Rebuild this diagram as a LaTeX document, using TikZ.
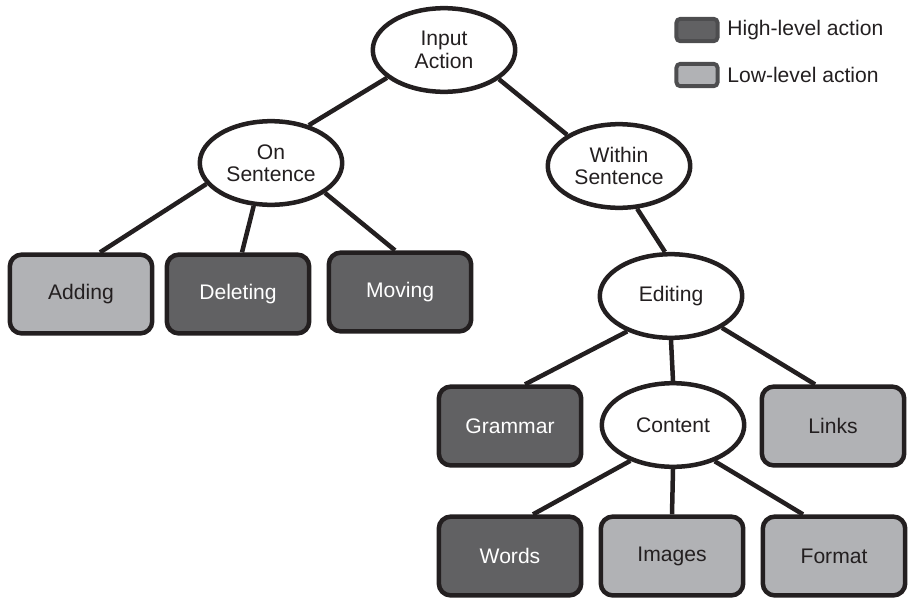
\documentclass[tikz,border=0pt]{standalone}
\usepackage{fontspec}
\setmainfont{Liberation Sans}
\usetikzlibrary{shapes.geometric,positioning}
\definecolor{highGray}{HTML}{616163}
\definecolor{lowGray}{HTML}{B1B2B5}
\definecolor{keyLine}{HTML}{4D4D4F}
\definecolor{inkBlack}{HTML}{231F20}
\tikzset{
myEllipse/.style={
	ellipse,draw=inkBlack,fill=white,line width=3.2pt,
	minimum width=3.56cm,minimum height=2.09cm,
	inner sep=0pt,align=center,text=inkBlack
}
, myHigh/.style={
	rectangle,rounded corners=0.3cm,draw=inkBlack,fill=highGray,line width=3.2pt,
	minimum width=3.56cm,minimum height=1.97cm,
	inner sep=0pt,text=white
}
, myLow/.style={
	myHigh,fill=lowGray,text=inkBlack
}
% legend
, myKey/.style={
	rectangle,rounded corners=0.1cm,draw=keyLine,line width=2.8pt,
	minimum width=1.03cm,minimum height=0.56cm,inner sep=0pt
}
, myKeyText/.style={anchor=west,text=inkBlack}
% link
, myEdge/.style={draw=inkBlack,line width=3.2pt}
}
\begin{document}
\begin{tikzpicture}[x=0.025cm,y=-0.025cm,font=\fontsize{15}{16}\selectfont]
	\useasboundingbox (0,0) rectangle (911,598);
	% decision nodes
	\node[myEllipse] (input)   at (444,50)  {Input\\Action};
	\node[myEllipse] (onSent)  at (271,163) {On\\Sentence};
	\node[myEllipse] (within)  at (619,166) {Within\\Sentence};
	\node[myEllipse] (editing) at (671,296) {Editing};
	\node[myEllipse] (content) at (673,425) {Content};
	% actions
	\node[myLow]  (adding)   at (81,294)  {Adding};
	\node[myHigh] (deleting) at (238,294) {Deleting};
	\node[myHigh] (moving)   at (400,292) {Moving};
	\node[myHigh] (grammar)  at (510,426) {Grammar};
	\node[myLow]  (links)    at (833,426) {Links};
	\node[myHigh] (words)    at (510,556) {Words};
	\node[myLow]  (images)   at (672,556) {Images};
	\node[myLow]  (format)   at (834,556) {Format};
	% legend
	\node[myKey,fill=highGray] (highKey) at (697,30) {};
	\node[myKeyText,right=0.07cm of highKey] (highText) {High-level action};
	\node[myKey,fill=lowGray] (lowKey) at (697,75) {};
	\node[myKeyText,right=0.07cm of lowKey] (lowText) {Low-level action};
	% links
	\draw[myEdge] (input.206) -- (onSent.45);
	\draw[myEdge] (input.332) -- (within.149);
	\draw[myEdge] (onSent.198) -- ([xshift=0.475cm]adding.north);
	\draw[myEdge] (onSent.248) -- ([xshift=0.1cm]deleting.north);
	\draw[myEdge] (onSent.331) -- ([xshift=-0.125cm]moving.north);
	\draw[myEdge] (within.293) -- ([xshift=-0.15cm]editing.north);
	\draw[myEdge] (editing.219) -- ([xshift=0.375cm]grammar.north);
	\draw[myEdge] (editing.south) -- (content.north);
	\draw[myEdge] (editing.328) -- ([xshift=-0.45cm]links.north);
	\draw[myEdge] (content.220) -- ([xshift=0.575cm]words.north);
	\draw[myEdge] (content.south) -- (images.north);
	\draw[myEdge] (content.319) -- ([xshift=-0.775cm]format.north);
\end{tikzpicture}
\end{document}
